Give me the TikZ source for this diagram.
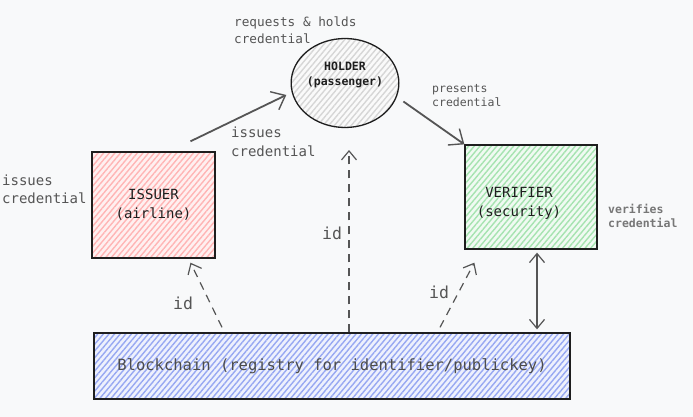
\documentclass[tikz,border=0pt]{standalone}
\usepackage{fontspec}
\setmonofont{DejaVu Sans Mono}
\usetikzlibrary{arrows.meta,patterns.meta,shapes.geometric}
\definecolor{paper}{HTML}{F8F9FA}
\definecolor{ink}{HTML}{1E1E1E}
\definecolor{txt}{HTML}{555555}
\definecolor{redbg}{HTML}{FFF0F0}
\definecolor{redln}{HTML}{FFB5B5}
\definecolor{greenbg}{HTML}{F0FAF2}
\definecolor{greenln}{HTML}{A6E3B0}
\definecolor{bluebg}{HTML}{EEF1FD}
\definecolor{blueln}{HTML}{97A8F2}
\definecolor{greybg}{HTML}{FAFAFA}
\definecolor{greyln}{HTML}{D6D6D6}
\newcommand{\fs}[2]{\ttfamily\fontsize{#1}{#2}\selectfont}

\begin{document}
\begin{tikzpicture}[x=1pt,y=-1pt,
    box/.style={draw=ink, line width=1.3pt, align=center, text=ink, inner sep=0pt, font=\fs{14}{19}},
    hatch/.style 2 args={preaction={fill=#1}, pattern={Lines[angle=50,distance=4.3pt,line width=1.4pt]}, pattern color=#2},
    note/.style={text=txt, align=left, anchor=north west, inner sep=0pt},
    flow/.style={draw=txt, line width=1.8pt, -{Straight Barb[length=12pt,width=20pt,line width=1.4pt]}},
    idflow/.style={draw=txt, line width=1.2pt, dash pattern=on 8pt off 6pt, -{Straight Barb[length=9pt,width=15pt,line width=1.2pt]}},
    both/.style={draw=txt, line width=1.8pt, {Straight Barb[length=9pt,width=15pt,line width=1.2pt]}-{Straight Barb[length=9pt,width=15pt,line width=1.2pt]}}]
        \fill[paper] (0, 0) rectangle (693, 417);
        \useasboundingbox (0, 0) rectangle (693, 417);
        % parties
        \node[box, hatch={redbg}{redln}, minimum width=123pt, minimum height=106pt] (issuer) at (153.5, 205) {ISSUER\\(airline)};
        \node[box, hatch={greenbg}{greenln}, minimum width=132pt, minimum height=104pt] (verifier) at (531, 197) {};
        \node[box, draw=none, pattern=none] (vertxt) at ([shift={(-12,6)}]verifier.center) {VERIFIER\\(security)};
        \node[box, ellipse, hatch={greybg}{greyln}, minimum width=98pt, minimum height=89pt, font=\fs{11.5}{15}\bfseries] (holder) at (345, 83) {HOLDER\\(passenger)\\[4pt]};
        \node[box, hatch={bluebg}{blueln}, minimum width=476pt, minimum height=66pt, font=\fs{15.5}{19}, text=txt!90!black] (chain) at (332, 366) {Blockchain (registry for identifier/publickey)};
        \coordinate (idtop) at (349, 150);
        % labels
        \node[note, font=\fs{12.7}{17}] (reqlbl) at (234, 17) {requests \& holds\\credential};
        \node[note, font=\fs{14}{19}] (isslbl) at (231, 127) {issues\\credential};
        \node[note, font=\fs{11.5}{14.5}] (prelbl) at (432, 84) {presents\\credential};
        \node[note, font=\fs{14}{18}] (leftlbl) at (2, 175) {issues\\credential};
        \node[note, font=\fs{11.5}{14}\bfseries, text=txt!80] (verlbl) at (608, 204) {verifies\\credential};
        \node[note, font=\fs{16.5}{20}] (id1) at (322, 227) {id};
        \node[note, font=\fs{16.5}{20}] (id2) at (173, 297) {id};
        \node[note, font=\fs{16.5}{20}] (id3) at (429, 286) {id};
        % connectors
        \draw[flow, shorten >=6pt] ([shift={(37,-10)}]issuer.north) -- (holder.190);
        \draw[flow, shorten <=8pt] (holder.345) -- (verifier.north west);
        \draw[idflow] ([xshift=17pt]chain.north) -- (idtop);
        \draw[idflow] ([shift={(-110,-5)}]chain.north) -- ([shift={(37,4)}]issuer.south);
        \draw[idflow] ([shift={(108,-5)}]chain.north) -- ([shift={(10,13)}]verifier.south west);
        \draw[both] ([shift={(6,3)}]verifier.south) -- ([shift={(205,-3)}]chain.north);
      \end{tikzpicture}
\end{document}
